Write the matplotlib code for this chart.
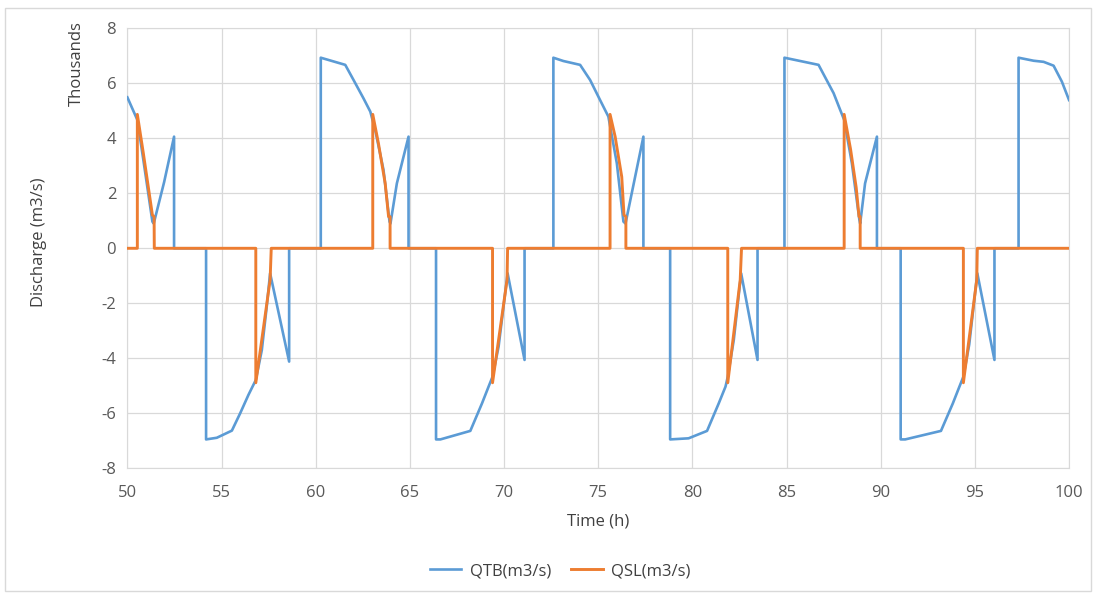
import matplotlib
matplotlib.use("Agg")
import matplotlib.pyplot as plt
from matplotlib.ticker import FuncFormatter, MultipleLocator
from matplotlib.patches import Rectangle

plt.rcParams['font.family'] = ['Open Sans', 'DejaVu Sans']

# QTB (m3/s)
qtb_t = [50.00, 50.53, 50.85, 51.33, 51.40, 51.95, 52.48, 52.48,
         54.18, 54.18, 54.75, 55.55, 55.99, 56.43, 56.82, 57.14, 57.40, 57.58, 58.59, 58.59,
         60.27, 60.27, 61.57, 62.01, 62.54, 62.90, 63.16, 63.60, 63.92, 63.97, 64.31, 64.93, 64.93,
         66.39, 66.39, 66.62, 68.21, 68.83, 69.18, 69.39, 69.71, 70.19, 71.09, 71.09,
         72.62, 72.62, 73.15, 74.04, 74.57, 75.10, 75.54, 75.99, 76.34, 76.45, 77.40, 77.40,
         78.82, 78.82, 79.80, 80.78, 81.40, 81.76, 81.88, 82.20, 82.59, 83.46, 83.46,
         84.89, 84.89, 86.70, 87.50, 87.85, 88.06, 88.47, 88.87, 88.91, 89.17, 89.80, 89.80,
         91.06, 91.06, 91.30, 93.20, 93.83, 94.18, 94.39, 94.70, 95.13, 96.04, 96.04,
         97.32, 97.32, 98.12, 98.65, 99.18, 99.62, 100.00]
qtb_v = [5490, 4670, 3210, 970, 900, 2400, 4060, 0,
         0, -6950, -6890, -6630, -6000, -5330, -4790, -3700, -2120, -910, -4120, 0,
         0, 6930, 6670, 6120, 5450, 4970, 4300, 2850, 970, 900, 2360, 4060, 0,
         0, -6950, -6950, -6640, -5640, -5030, -4670, -3580, -910, -4060, 0,
         0, 6930, 6810, 6670, 6120, 5390, 4790, 3090, 970, 900, 4060, 0,
         0, -6950, -6910, -6640, -5640, -5030, -4670, -3330, -910, -4060, 0,
         0, 6930, 6670, 5640, 5030, 4670, 3090, 1030, 900, 2360, 4060, 0,
         0, -6950, -6950, -6640, -5640, -5030, -4670, -3500, -910, -4060, 0,
         0, 6930, 6820, 6780, 6640, 6060, 5390]

# QSL (m3/s)
qsl_t = [50.00, 50.53, 50.53, 50.85, 51.33, 51.42, 51.43,
         56.82, 56.82, 57.58, 57.64,
         63.03, 63.03, 63.33, 63.69, 63.87, 63.95, 63.95,
         69.39, 69.39, 70.16, 70.19,
         75.63, 75.63, 75.90, 76.25, 76.37, 76.47, 76.47,
         81.88, 81.88, 82.54, 82.61,
         88.06, 88.06, 88.40, 88.70, 88.85, 88.91, 88.91,
         94.39, 94.39, 95.10, 95.13,
         100.00]
qsl_v = [0, 0, 4870, 3450, 1210, 1150, 0,
         0, -4890, -1150, 0,
         0, 4870, 3820, 2360, 1150, 1150, 0,
         0, -4890, -1150, 0,
         0, 4870, 4060, 2600, 1210, 1150, 0,
         0, -4890, -1150, 0,
         0, 4870, 3600, 2200, 1150, 1150, 0,
         0, -4890, -1150, 0,
         0]

fs = 12
fig = plt.figure(figsize=(10.96, 5.93), dpi=100)
ax = fig.add_axes([0.1162, 0.2103, 0.8592, 0.742])

ax.plot(qtb_t, qtb_v, color='#5B9BD5', lw=1.9, label='QTB(m3/s)', zorder=3)
ax.plot(qsl_t, qsl_v, color='#ED7D31', lw=2.1, label='QSL(m3/s)', zorder=4)

ax.set_xlim(50, 100)
ax.set_ylim(-8000, 8000)
ax.xaxis.set_major_locator(MultipleLocator(5))
ax.yaxis.set_major_locator(MultipleLocator(2000))
ax.yaxis.set_major_formatter(FuncFormatter(lambda v, p: f"{v/1000:g}"))
ax.grid(True, color='#D9D9D9', lw=0.9)
ax.set_axisbelow(True)
for s in ax.spines.values():
    s.set_color('#D9D9D9')
ax.tick_params(length=0, labelsize=fs, labelcolor='#595959')
ax.tick_params(axis='x', pad=12)
ax.tick_params(axis='y', pad=8)

fig.text(0.546, 0.120, "Time (h)", ha='center', va='center', fontsize=fs, color='#404040')
fig.text(0.036, 0.592, "Discharge (m3/s)", rotation=90, ha='center', va='center',
         fontsize=fs, color='#404040')
fig.text(0.070, 0.893, "Thousands", rotation=90, ha='center', va='center',
         fontsize=fs, color='#404040')

fig.legend(loc='center', bbox_to_anchor=(0.511, 0.037), ncol=2, frameon=False,
           fontsize=fs, handlelength=1.9, handletextpad=0.5, columnspacing=1.2,
           labelcolor='#404040')

fig.patches.append(Rectangle((0.005, 0.004), 0.99, 0.983, transform=fig.transFigure,
                             fill=False, edgecolor='#D9D9D9', lw=1))

fig.savefig("out.png", dpi=100)
